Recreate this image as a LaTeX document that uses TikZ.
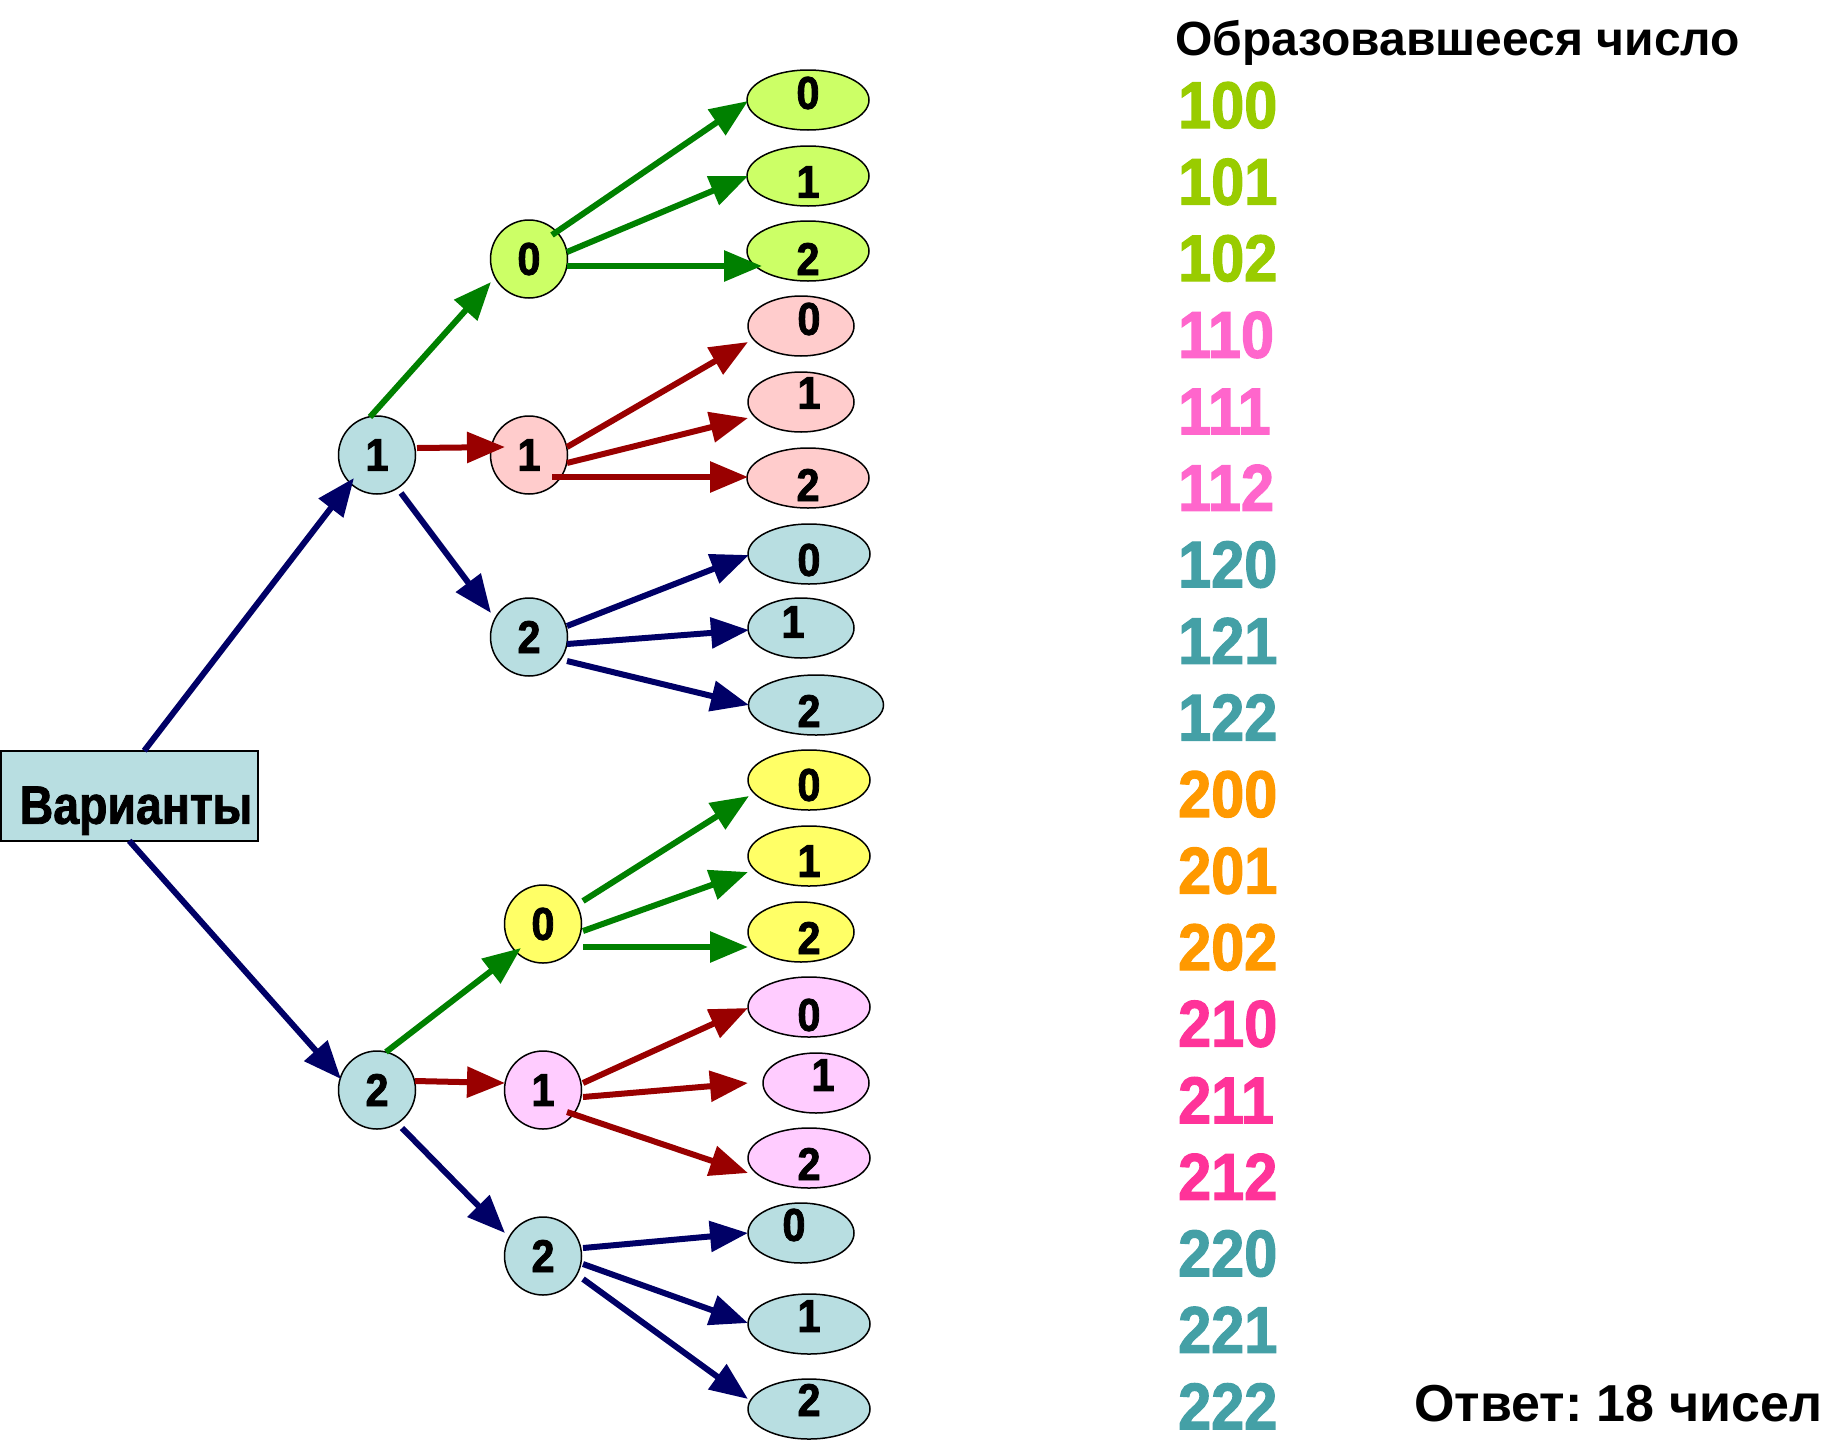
\documentclass[tikz,border=0pt]{standalone}
\usepackage{fontspec}
\setmainfont{Liberation Sans}
\newfontfamily\narfont{Liberation Sans}[FakeStretch=0.9, BoldFeatures={FakeBold=1.8}]
\newfontfamily\boxfont{Liberation Sans}[FakeStretch=0.86, BoldFeatures={FakeBold=1.5}]
\usetikzlibrary{arrows.meta,shapes.geometric}
\definecolor{fBlue}{RGB}{184,222,225}
\definecolor{fLime}{RGB}{204,255,102}
\definecolor{fPink}{RGB}{255,204,204}
\definecolor{fYel}{RGB}{255,255,102}
\definecolor{fMag}{RGB}{255,204,255}
\definecolor{aGreen}{RGB}{0,128,0}
\definecolor{aRed}{RGB}{153,0,0}
\definecolor{aNavy}{RGB}{0,0,102}
\definecolor{tLime}{RGB}{153,204,0}
\definecolor{tPink}{RGB}{255,102,204}
\definecolor{tTeal}{RGB}{68,160,166}
\definecolor{tOrange}{RGB}{255,153,0}
\definecolor{tRose}{RGB}{255,51,153}
\newcommand\myleaf[6]{\node[leafnode, fill=#5, minimum width=#4pt,
  label={[digit, shift={(#6)}]center:#2}] (#1) at (#3) {};}
\frenchspacing
\begin{document}
\begin{tikzpicture}[x=1pt,y=-1pt,
  digit/.style={font=\narfont\bfseries\fontsize{46}{46}\selectfont, inner sep=0pt},
  midnode/.style={ellipse, draw, line width=1.5pt, minimum width=77pt, minimum height=78pt, inner sep=0pt, digit},
  leafnode/.style={ellipse, draw, line width=1.5pt, minimum height=60pt, inner sep=0pt},
  arr/.style={line width=6pt, -{Triangle[length=38pt,width=30pt]}},
  arrG/.style={arr, draw=aGreen, fill=aGreen},
  arrR/.style={arr, draw=aRed, fill=aRed},
  arrN/.style={arr, draw=aNavy, fill=aNavy},
  numtext/.style={anchor=west, inner sep=0pt, text height=48pt, text depth=0pt, font=\narfont\bfseries\fontsize{66}{66}\selectfont},
  bigtext/.style={anchor=base west, inner sep=0pt, font=\bfseries\fontsize{48}{48}\selectfont}]
\useasboundingbox (0,0) rectangle (1843,1440);

% root box
\node[draw, line width=1.5pt, fill=fBlue, anchor=north west, minimum width=257pt, inner sep=0pt,
  text height=73pt, text depth=17pt,
  font=\boxfont\bfseries\fontsize{54}{54}\selectfont] (root) at (0,750) {\makebox[257pt][l]{\hspace{19pt}Варианты}};

% level 1
\node[midnode, fill=fBlue] (n1) at (377,455) {1};
\node[midnode, fill=fBlue] (n2) at (377,1090) {2};

% level 2
\node[midnode, fill=fLime] (a0) at (529,259) {0};
\node[midnode, fill=fPink] (a1) at (529,455) {1};
\node[midnode, fill=fBlue] (a2) at (529,637) {2};
\node[midnode, fill=fYel]  (b0) at (543,924) {0};
\node[midnode, fill=fMag]  (b1) at (543,1090) {1};
\node[midnode, fill=fBlue] (b2) at (543,1256) {2};

% leaves
\myleaf{g0}{0}{808,100}{122}{fLime}{0,-7}
\myleaf{g1}{1}{808,176}{122}{fLime}{0,6}
\myleaf{g2}{2}{808,251}{122}{fLime}{0,8}
\myleaf{p0}{0}{801,326}{106}{fPink}{8,-7}
\myleaf{p1}{1}{801,402}{106}{fPink}{8,-9}
\myleaf{p2}{2}{808,478}{122}{fPink}{0,7}
\myleaf{u0}{0}{809,554}{122}{fBlue}{0,6}
\myleaf{u1}{1}{801,628}{106}{fBlue}{-8,-6}
\myleaf{u2}{2}{816,705}{135}{fBlue}{-7,6}
\myleaf{y0}{0}{809,780}{122}{fYel}{0,5}
\myleaf{y1}{1}{809,856}{122}{fYel}{0,5}
\myleaf{y2}{2}{801,932}{106}{fYel}{8,6}
\myleaf{m0}{0}{809,1007}{122}{fMag}{0,8}
\myleaf{m1}{1}{816,1083}{106}{fMag}{7,-8}
\myleaf{m2}{2}{809,1158}{122}{fMag}{0,6}
\myleaf{c0}{0}{801,1233}{106}{fBlue}{-7,-8}
\myleaf{c1}{1}{809,1324}{122}{fBlue}{0,-8}
\myleaf{c2}{2}{809,1409}{122}{fBlue}{0,-9}

% connectors from root and level 1
\draw[arrN] ([shift={(15,-45)}]root.center) -- ([shift={(-23,23)}]n1.center);
\draw[arrN] ([shift={(0,45)}]root.center) -- ([shift={(-36,-11)}]n2.center);
\draw[arrG] ([shift={(-7,-38)}]n1.center) -- ([shift={(-38,23)}]a0.center);
\draw[arrR] ([shift={(40,-7)}]n1.center) -- ([shift={(-24,-8)}]a1.center);
\draw[arrN] ([shift={(24,38)}]n1.center) -- ([shift={(-38,-24)}]a2.center);
\draw[arrG] ([shift={(9,-38)}]n2.center) -- ([shift={(-22,24)}]b0.center);
\draw[arrR] ([shift={(38,-9)}]n2.center) -- ([shift={(-38,-7)}]b1.center);
\draw[arrN] ([shift={(25,38)}]n2.center) -- ([shift={(-38,-23)}]b2.center);

% level 2 to leaves
\draw[arrG] ([shift={(23,-24)}]a0.center) -- ([shift={(-60,1)}]g0.center);
\draw[arrG] ([shift={(38,-7)}]a0.center) -- ([shift={(-60,0)}]g1.center);
\draw[arrG] ([shift={(38,7)}]a0.center) -- ([shift={(-46,15)}]g2.center);
\draw[arrR] ([shift={(38,-8)}]a1.center) -- ([shift={(-53,16)}]p0.center);
\draw[arrR] ([shift={(38,8)}]a1.center) -- ([shift={(-53,16)}]p1.center);
\draw[arrR] ([shift={(23,22)}]a1.center) -- ([shift={(-60,-1)}]p2.center);
\draw[arrN] ([shift={(38,-11)}]a2.center) -- ([shift={(-60,1)}]u0.center);
\draw[arrN] ([shift={(38,7)}]a2.center) -- ([shift={(-52,2)}]u1.center);
\draw[arrN] ([shift={(38,24)}]a2.center) -- ([shift={(-67,0)}]u2.center);
\draw[arrG] ([shift={(40,-23)}]b0.center) -- ([shift={(-60,16)}]y0.center);
\draw[arrG] ([shift={(40,7)}]b0.center) -- ([shift={(-61,16)}]y1.center);
\draw[arrG] ([shift={(40,23)}]b0.center) -- ([shift={(-53,15)}]y2.center);
\draw[arrR] ([shift={(40,-7)}]b1.center) -- ([shift={(-61,1)}]m0.center);
\draw[arrR] ([shift={(40,7)}]b1.center) -- ([shift={(-68,0)}]m1.center);
\draw[arrR] ([shift={(24,22)}]b1.center) -- ([shift={(-61,15)}]m2.center);
\draw[arrN] ([shift={(40,-8)}]b2.center) -- ([shift={(-53,0)}]c0.center);
\draw[arrN] ([shift={(40,8)}]b2.center) -- ([shift={(-61,-1)}]c1.center);
\draw[arrN] ([shift={(40,23)}]b2.center) -- ([shift={(-61,-10)}]c2.center);

% number column
\node[bigtext] (head) at (1175,55) {Образовавшееся число};
\foreach \t/\c [count=\i from 0] in {100/tLime,101/tLime,102/tLime,110/tPink,111/tPink,112/tPink,120/tTeal,121/tTeal,122/tTeal,200/tOrange,201/tOrange,202/tOrange,210/tRose,211/tRose,212/tRose,220/tTeal,221/tTeal,222/tTeal}
  \node[numtext, text=\c] (num\i) at (1178,{104+76.55*\i}) {\t};
\node[bigtext, font=\bfseries\fontsize{52}{52}\selectfont] (answer) at (1414,1421) {Ответ: 18 чисел};
\end{tikzpicture}
\end{document}
